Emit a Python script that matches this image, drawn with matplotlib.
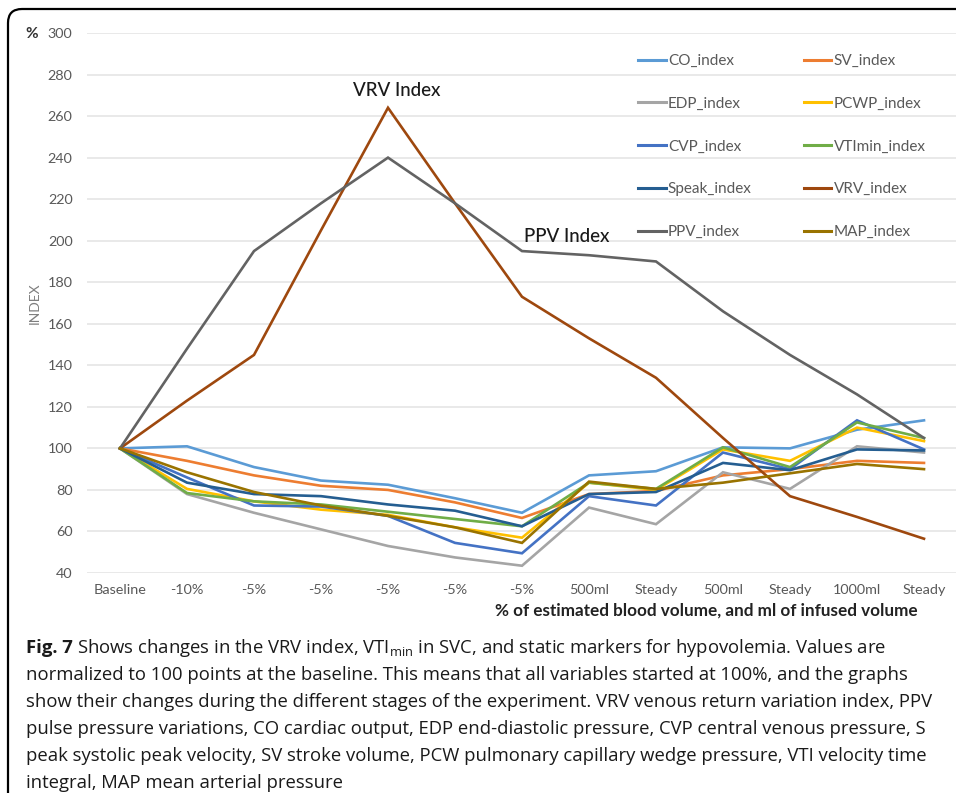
import matplotlib
matplotlib.use("Agg")
import matplotlib.pyplot as plt
from matplotlib.lines import Line2D
from matplotlib.patches import FancyBboxPatch
from matplotlib.transforms import IdentityTransform

# stages of the experiment
categories = ["Baseline", "-10%", "-5%", "-5%", "-5%", "-5%", "-5%",
              "500ml", "Steady", "500ml", "Steady", "1000ml", "Steady"]

co_index = [100, 101, 91, 84.5, 82.5, 76, 69, 87, 89, 100.5, 100, 109, 113.5]
sv_index = [100, 94, 87, 82, 80, 74, 66.5, 78, 79.5, 87, 90, 94, 93]
edp_index = [100, 78, 69, 61, 53, 47.5, 43.5, 71.5, 63.5, 88.5, 80.5, 101, 98]
pcwp_index = [100, 80.5, 74.5, 70.5, 68, 62, 57, 83.5, 80, 99.5, 94, 110, 103.5]
cvp_index = [100, 86, 72.5, 72, 67.5, 54.5, 49.5, 77, 72.5, 98, 90, 113.5, 99.5]
vtimin_index = [100, 78.5, 74.5, 73, 69.5, 66, 62.5, 83.5, 80.5, 100.5, 91, 112.5, 105]
speak_index = [100, 83.5, 78, 77, 73, 70, 62.5, 78, 79, 93, 89.5, 99.5, 99]
vrv_index = [100, 123, 145, 205, 264, 218, 173, 153, 134, 105, 77, 67, 56.5]
ppv_index = [100, 148, 195, 218, 240, 218, 195, 193, 190, 166, 145, 126, 105]
map_index = [100, 88.5, 79, 72.5, 67.5, 62, 54.5, 84, 80.5, 83.5, 88, 92.5, 90]

series = [
    ("CO_index", co_index, "#5B9BD5"),
    ("SV_index", sv_index, "#ED7D31"),
    ("EDP_index", edp_index, "#A5A5A5"),
    ("PCWP_index", pcwp_index, "#FFC000"),
    ("CVP_index", cvp_index, "#4472C4"),
    ("VTImin_index", vtimin_index, "#70AD47"),
    ("Speak_index", speak_index, "#255E91"),
    ("VRV_index", vrv_index, "#9E480E"),
    ("PPV_index", ppv_index, "#636363"),
    ("MAP_index", map_index, "#997300"),
]

caption_lines = [
    "normalized to 100 points at the baseline. This means that all variables started at 100%, and the graphs",
    "show their changes during the different stages of the experiment. VRV venous return variation index, PPV",
    "pulse pressure variations, CO cardiac output, EDP end-diastolic pressure, CVP central venous pressure, S",
    "peak systolic peak velocity, SV stroke volume, PCW pulmonary capillary wedge pressure, VTI velocity time",
    "integral, MAP mean arterial pressure",
]

plt.rcParams["font.family"] = ["Lato", "DejaVu Sans"]
plt.rcParams["mathtext.fontset"] = "custom"
plt.rcParams["mathtext.rm"] = "Open Sans"

W, H = 956, 793
fig = plt.figure(figsize=(W / 100, H / 100), dpi=100)
ax = fig.add_axes([86.5 / W, 1 - 573 / H, 871 / W, 540 / H])

x = list(range(len(categories)))
lines = {}
for name, vals, col in series:
    ln, = ax.plot(x, vals, color=col, lw=1.9, solid_joinstyle="miter")
    lines[name] = ln

ax.set_xlim(-0.5, 12.5)
ax.set_ylim(40, 300)
ax.set_yticks(range(40, 301, 20))
ax.set_xticks(x)
ax.set_xticklabels(categories)
ax.grid(axis="y", color="#E3E3E3", lw=1.1)
ax.set_axisbelow(True)
for s in ax.spines.values():
    s.set_visible(False)
ax.tick_params(length=0, labelsize=10.4, colors="#595959")
ax.tick_params(axis="y", pad=10)
ax.tick_params(axis="x", pad=8)

# legend sits over the gridlines, row-major order like the original
order = ["CO_index", "EDP_index", "CVP_index", "Speak_index", "PPV_index",
         "SV_index", "PCWP_index", "VTImin_index", "VRV_index", "MAP_index"]
handles = [Line2D([], [], color=lines[n].get_color(), lw=2.2) for n in order]
fig.legend(handles, order, ncol=2, frameon=False, loc="upper left",
           bbox_to_anchor=(632 / W, 1 - 48 / H), fontsize=11,
           handlelength=1.8, handletextpad=0.15, columnspacing=3.4,
           labelspacing=1.88, labelcolor="#595959", borderaxespad=0)

ax.text(4.13, 272.5, "VRV Index", ha="center", va="center", fontsize=13.5,
        fontweight="medium", color="#1a1a1a")
ax.text(6.67, 202, "PPV Index", ha="center", va="center", fontsize=13.5,
        fontweight="medium", color="#1a1a1a")

fig.text(32 / W, 1 - 34 / H, "%", ha="center", va="center", fontsize=11,
         fontweight="bold", color="#333333")
fig.text(35 / W, 1 - 303 / H, "INDEX", ha="center", va="center", rotation=90,
         fontsize=10, color="#7F7F7F")
fig.text(918 / W, 1 - 611 / H, "% of estimated blood volume, and ml of infused volume",
         ha="right", va="center", fontsize=12.35, fontweight="bold", color="#222222")

# caption
cap_font = ["Open Sans", "DejaVu Sans"]
cap_size = 13.3
t0 = fig.text(26 / W, 1 - 648 / H, "Fig. 7", ha="left", va="center", family=cap_font,
              fontsize=cap_size, fontweight="bold", color="#1a1a1a")
r = fig.canvas.get_renderer()
bb = t0.get_window_extent(r)
fig.text((bb.x1 + 4) / W, 1 - 648 / H,
         r"Shows changes in the VRV index, VTI$_{\mathrm{min}}$ in SVC, and static markers for hypovolemia. Values are",
         ha="left", va="center", family=cap_font, fontsize=cap_size, color="#1a1a1a")
for i, line in enumerate(caption_lines):
    fig.text(26 / W, 1 - (675 + 27 * i) / H, line, ha="left", va="center",
             family=cap_font, fontsize=cap_size, color="#1a1a1a")

# rounded frame around the whole figure (cut off right and bottom)
frame = FancyBboxPatch((8, -30), 1000, H - 9 + 30, boxstyle="round,pad=0,rounding_size=14",
                       transform=IdentityTransform(), fill=False, ec="black", lw=1.6)
fig.patches.append(frame)

fig.savefig("out.png", dpi=100)
